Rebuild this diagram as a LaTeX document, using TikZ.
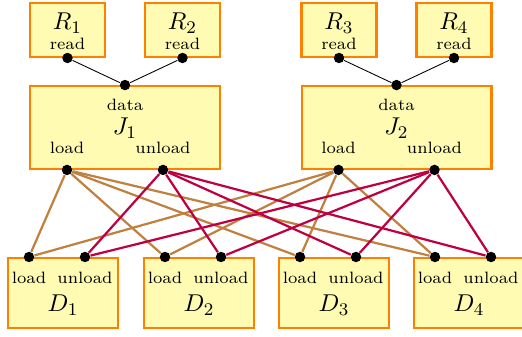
\documentclass[tikz,border=0pt]{standalone}
\usetikzlibrary{positioning,calc}

\tikzset{
    box/.style={draw=orange, line width=1pt, fill=yellow!30, inner sep=0pt},
    port/.style={circle, fill=black, inner sep=0pt, minimum size=4.7pt},
    lbl/.style={font=\fontsize{7.4pt}{9pt}\selectfont, anchor=base, inner sep=0pt},
    title/.style={font=\fontsize{11pt}{13pt}\selectfont, anchor=base, inner sep=0pt},
    link/.style={line width=1pt},
}

\begin{document}
\begin{tikzpicture}[x=0.45pt,y=-0.45pt]
    \useasboundingbox (0,0) rectangle (522,337);

    % Readers
    \foreach \i/\x in {1/67.5,2/182.5,3/339,4/454}{
        \node[box, minimum width=33.7pt, minimum height=24.2pt] (R\i) at (\x,30) {};
        \node[title] (R\i-name) at (\x,30) {$R_\i$};
        \node[lbl] (R\i-txt) at (\x,50) {read};
        \node[port] (R\i-read) at (R\i.south) {};
    }

    % Jobs
    \foreach \i/\x in {1/125,2/396.5}{
        \node[box, minimum width=85.4pt, minimum height=37.2pt] (J\i) at (\x,127.5) {};
        \node[lbl] (J\i-datatxt) at (\x,111) {data};
        \node[title] (J\i-name) at (\x,135) {$J_\i$};
        \node[lbl] (J\i-loadtxt) at (\x-58,154) {load};
        \node[lbl] (J\i-unloadtxt) at (\x+38,154) {unload};
        \node[port] (J\i-data) at (J\i.north) {};
        \node[port] (J\i-load) at (J\i-loadtxt |- J\i.south) {};
        \node[port] (J\i-unload) at (J\i-unloadtxt |- J\i.south) {};
    }

    % Disks
    \foreach \i/\x in {1/63,2/199,3/334,4/469}{
        \node[box, minimum width=49.4pt, minimum height=31.4pt] (D\i) at (\x,293) {};
        \node[lbl] (D\i-loadtxt) at (\x-34,283) {load};
        \node[lbl] (D\i-unloadtxt) at (\x+22,283) {unload};
        \node[title] (D\i-name) at (\x,312) {$D_\i$};
        \node[port] (D\i-load) at (D\i-loadtxt |- D\i.north) {};
        \node[port] (D\i-unload) at (D\i-unloadtxt |- D\i.north) {};
    }

    % Reads into jobs
    \draw (R1-read) -- (J1-data) -- (R2-read);
    \draw (R3-read) -- (J2-data) -- (R4-read);

    % Load and unload links
    \foreach \j in {1,2}
        \foreach \d in {1,...,4}
            \draw[brown, link] (J\j-load) -- (D\d-load);
    \foreach \j in {1,2}
        \foreach \d in {1,...,4}
            \draw[purple, link] (J\j-unload) -- (D\d-unload);
\end{tikzpicture}
\end{document}
